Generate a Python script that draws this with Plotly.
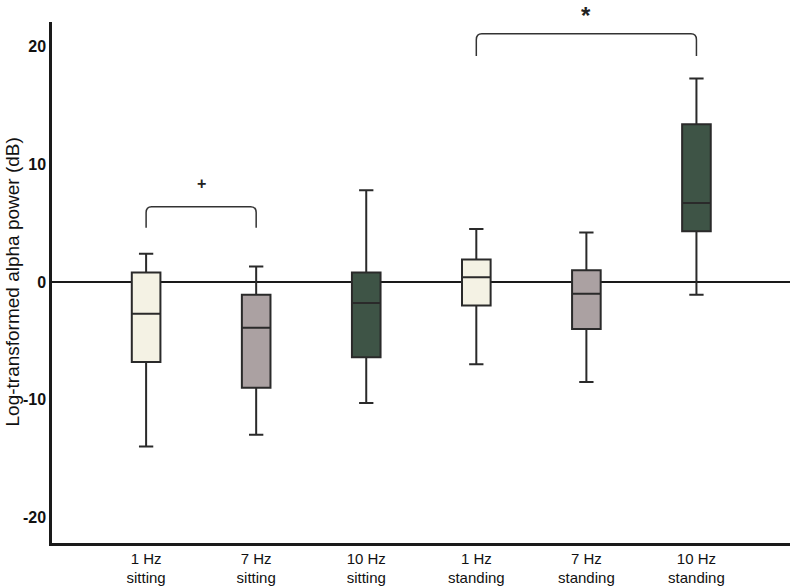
import plotly.graph_objects as go

categories = ["1 Hz<br>sitting", "7 Hz<br>sitting", "10 Hz<br>sitting",
              "1 Hz<br>standing", "7 Hz<br>standing", "10 Hz<br>standing"]
upper = [2.4, 1.3, 7.8, 4.5, 4.2, 17.3]
q3 = [0.8, -1.1, 0.8, 1.9, 1.0, 13.4]
median = [-2.7, -3.9, -1.8, 0.4, -1.0, 6.7]
q1 = [-6.8, -9.0, -6.4, -2.0, -4.0, 4.3]
lower = [-14.0, -13.0, -10.3, -7.0, -8.5, -1.1]
colors = ["#f4f2e4", "#aba1a2", "#3e5446", "#f4f2e4", "#aba1a2", "#3e5446"]
ytick_vals = [-20, -10, 0, 10, 20]

FONT = "Liberation Sans, Arial, sans-serif"

fig = go.Figure()
for i, c in enumerate(categories):
    fig.add_trace(go.Box(
        x=[c], q1=[q1[i]], median=[median[i]], q3=[q3[i]],
        lowerfence=[lower[i]], upperfence=[upper[i]],
        fillcolor=colors[i], line=dict(color="#2a2a2a", width=2),
        width=0.26, whiskerwidth=0.5, showlegend=False, hoverinfo="skip"))

# zero line
fig.add_hline(y=0, line=dict(color="#1a1a1a", width=2), layer="below")

# significance brackets
def bracket(x0, x1, ytop, ybot):
    fig.add_shape(type="path",
                  path=f"M {x0},{ybot} L {x0},{ytop-0.5} Q {x0},{ytop} {x0+0.05},{ytop} "
                       f"L {x1-0.05},{ytop} Q {x1},{ytop} {x1},{ytop-0.5} L {x1},{ybot}",
                  xref="x", yref="y", line=dict(color="#333", width=1.5))

bracket(0, 1, 6.4, 4.6)
bracket(3, 5, 21.1, 19.2)
fig.add_annotation(x=0.5, y=8.4, xref="x", yref="y", text="<b>+</b>", showarrow=False,
                   font=dict(size=16, color="#222", family=FONT))
fig.add_annotation(x=4, y=1.042, xref="x", yref="paper", yanchor="top",
                   text="<b>*</b>", showarrow=False,
                   font=dict(size=24, color="#222", family=FONT))

# y-axis title
fig.add_annotation(x=-40 / 738, y=0.5, xref="paper", yref="paper", xanchor="center",
                   yanchor="middle", textangle=-90, showarrow=False,
                   text="Log-transformed alpha power (dB)",
                   font=dict(size=19, color="#111", family=FONT))

fig.update_layout(
    width=790, height=586,
    margin=dict(l=52, r=0, t=22, b=43),
    paper_bgcolor="white", plot_bgcolor="white",
    font=dict(family=FONT, color="#111", size=15),
)
fig.update_xaxes(type="category", categoryorder="array", categoryarray=categories,
                 range=[-0.855, 5.85], showline=True, linecolor="#1a1a1a", linewidth=2.5,
                 showgrid=False, zeroline=False, ticks="", automargin=False,
                 tickfont=dict(size=15, family=FONT, color="#111"))
fig.update_yaxes(range=[-22.2, 22.1], tickvals=ytick_vals,
                 ticktext=[f"<b>{v}</b>" for v in ytick_vals],
                 showline=True, linecolor="#1a1a1a", linewidth=2.5, showgrid=False,
                 zeroline=False, ticks="", automargin=False,
                 tickfont=dict(size=16, family=FONT, color="#111"))
fig.write_html("out.html", config={"displayModeBar": False},
               post_script="document.body.style.margin='0';document.body.style.overflow='hidden';")
